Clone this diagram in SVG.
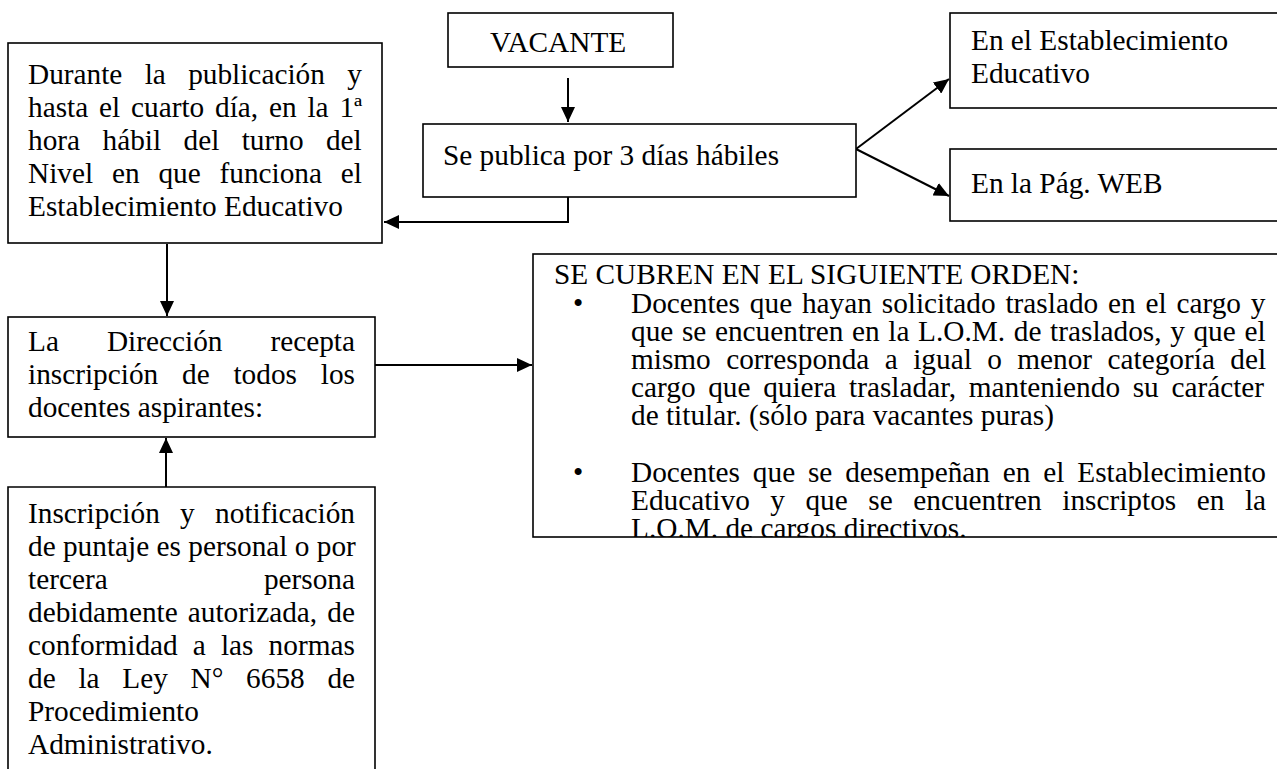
<svg xmlns="http://www.w3.org/2000/svg" width="1277" height="769" viewBox="0 0 1277 769">
<style>
.box{fill:#fff;stroke:#000;stroke-width:1.6}
.t{font-family:"Liberation Serif","Times New Roman",serif;font-size:29.3px;fill:#000}
.c{fill:none;stroke:#000;stroke-width:2}
</style>
<defs>
<marker id="ah" markerUnits="userSpaceOnUse" markerWidth="16" markerHeight="14" refX="15" refY="7" orient="auto">
<path d="M0,0 L15,7 L0,14 z" fill="#000"/>
</marker>
<clipPath id="bigclip"><rect x="533" y="254" width="760" height="283"/></clipPath>
</defs>
<rect width="1277" height="769" fill="#fff"/>

<g id="connectors">
<path class="c" d="M568,78 L568,122" marker-end="url(#ah)"/>
<path class="c" d="M568,197 L568,222 L384,222" marker-end="url(#ah)"/>
<path class="c" d="M856,149 L949,79" marker-end="url(#ah)"/>
<path class="c" d="M856,149 L949,196" marker-end="url(#ah)"/>
<path class="c" d="M167,244 L167,316" marker-end="url(#ah)"/>
<path class="c" d="M166,498 L166,438" marker-end="url(#ah)"/>
<path class="c" d="M375,365 L532,365" marker-end="url(#ah)"/>
</g>

<g id="vacante">
<rect class="box" x="448" y="13" width="225" height="54"/>
<text class="t" x="490" y="52">VACANTE</text>
</g>

<g id="publica">
<rect class="box" x="423" y="124" width="433" height="73"/>
<text class="t" x="443" y="165">Se publica por 3 días hábiles</text>
</g>

<g id="establecimiento">
<rect class="box" x="950" y="13" width="340" height="95"/>
<text class="t" x="971" y="50">En el Establecimiento</text>
<text class="t" x="971" y="83">Educativo</text>
</g>

<g id="web">
<rect class="box" x="950" y="149" width="340" height="72"/>
<text class="t" x="971" y="193">En la Pág. WEB</text>
</g>

<g id="durante">
<rect class="box" x="8" y="43" width="374" height="200"/>
<text class="t" x="28" y="84" word-spacing="15">Durante la publicación y</text>
<text class="t" x="28" y="117" word-spacing="3.5">hasta el cuarto día, en la 1ª</text>
<text class="t" x="28" y="150" word-spacing="15.1">hora hábil del turno del</text>
<text class="t" x="28" y="183" word-spacing="11.5">Nivel en que funciona el</text>
<text class="t" x="28" y="216">Establecimiento Educativo</text>
</g>

<g id="direccion">
<rect class="box" x="8" y="317" width="367" height="120"/>
<text class="t" x="28" y="351" word-spacing="40.7">La Dirección recepta</text>
<text class="t" x="28" y="384" word-spacing="16.5">inscripción de todos los</text>
<text class="t" x="28" y="417">docentes aspirantes:</text>
</g>

<g id="inscripcion">
<path class="box" d="M8,800 L8,487 L375,487 L375,800"/>
<text class="t" x="28" y="523" word-spacing="13">Inscripción y notificación</text>
<text class="t" x="28" y="556">de puntaje es personal o por</text>
<text class="t" x="28" y="589" word-spacing="148.9">tercera persona</text>
<text class="t" x="28" y="622" word-spacing="2.8">debidamente autorizada, de</text>
<text class="t" x="28" y="655" word-spacing="7.8">conformidad a las normas</text>
<text class="t" x="28" y="688" word-spacing="15.4">de la Ley N° 6658 de</text>
<text class="t" x="28" y="721">Procedimiento</text>
<text class="t" x="28" y="754">Administrativo.</text>
</g>

<g id="orden">
<rect class="box" x="533" y="254" width="760" height="283"/>
<g clip-path="url(#bigclip)">
<text class="t" x="554" y="284">SE CUBREN EN EL SIGUIENTE ORDEN:</text>
<text class="t" x="573" y="313">•</text>
<text class="t" x="631" y="313" word-spacing="2.5">Docentes que hayan solicitado traslado en el cargo y</text>
<text class="t" x="631" y="341" word-spacing="1.3">que se encuentren en la L.O.M. de traslados, y que el</text>
<text class="t" x="631" y="369" word-spacing="8.1">mismo corresponda a igual o menor categoría del</text>
<text class="t" x="631" y="397" word-spacing="5.35">cargo que quiera trasladar, manteniendo su carácter</text>
<text class="t" x="631" y="425">de titular. (sólo para vacantes puras)</text>
<text class="t" x="573" y="482">•</text>
<text class="t" x="631" y="482" word-spacing="5.5">Docentes que se desempeñan en el Establecimiento</text>
<text class="t" x="631" y="510" word-spacing="13.2">Educativo y que se encuentren inscriptos en la</text>
<text class="t" x="631" y="538">L.O.M. de cargos directivos.</text>
</g>
</g>
</svg>
